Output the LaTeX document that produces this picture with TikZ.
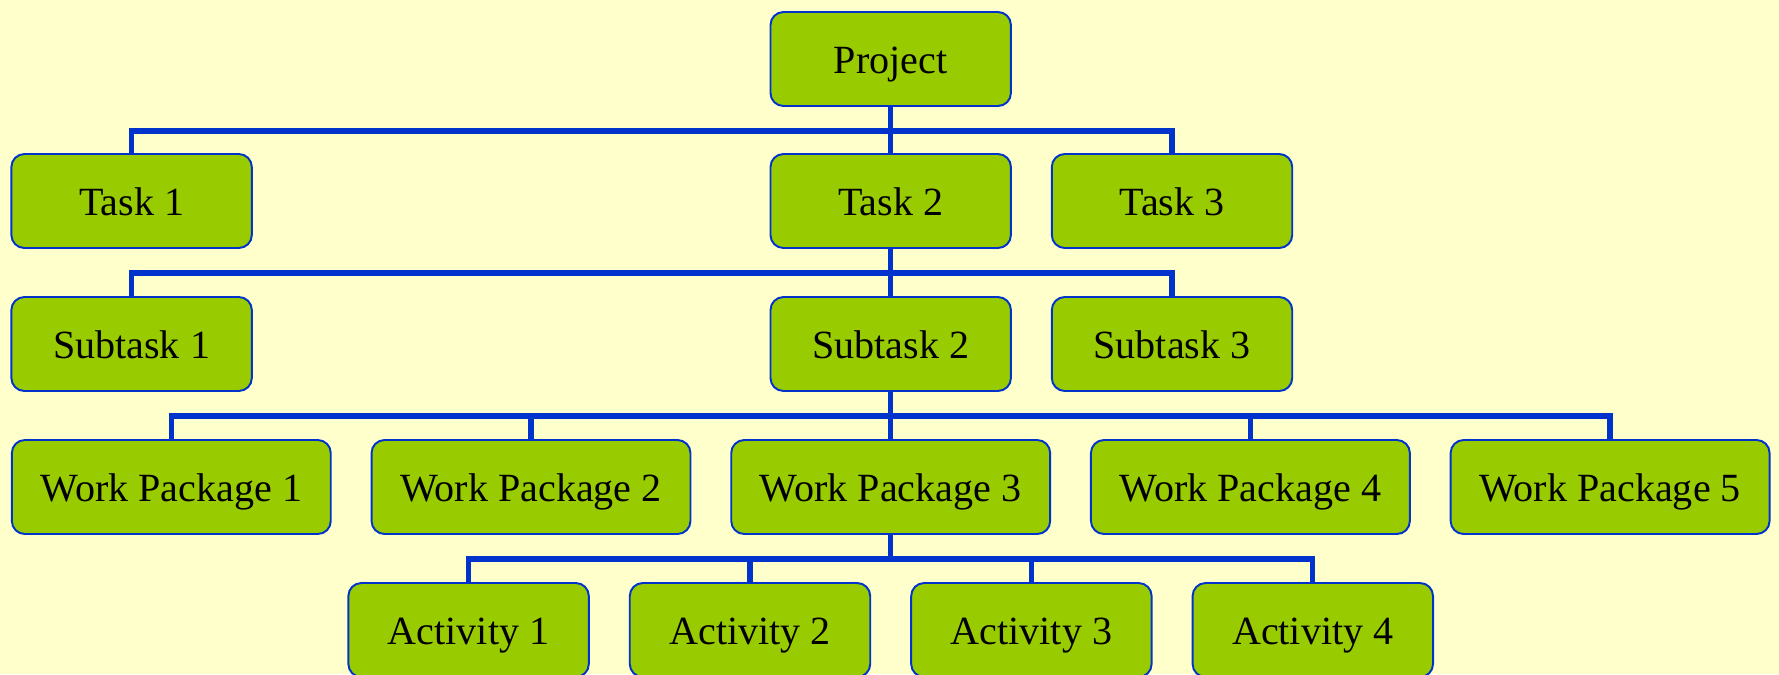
\documentclass[tikz,border=0pt]{standalone}
\usepackage{fontspec}
\setmainfont{Liberation Serif}
\definecolor{bgyellow}{HTML}{FFFFCC}
\definecolor{boxgreen}{HTML}{99CC00}
\definecolor{linkblue}{HTML}{0033CC}

\begin{document}
\begin{tikzpicture}[x=0.02cm, y=-0.02cm,
  wbs/.style={draw=linkblue, line width=1.1pt, fill=boxgreen, rounded corners=0.26cm,
    minimum width=4.81cm, minimum height=1.88cm, inner sep=0pt,
    text height=18pt, text depth=1pt,
    font=\fontsize{22.8}{26}\selectfont},
  widebox/.style={wbs, minimum width=6.38cm},
  link/.style={draw=linkblue, line width=3pt}]
\path[fill=bgyellow, use as bounding box] (0,0) rectangle (1779,674);
\clip (0,0) rectangle (1779,674);
% top
\node[wbs] (proj) at (890.7,59) {Project};
% tasks
\foreach \n/\x/\t in {t1/131.6/Task 1, t2/890.7/Task 2, t3/1172/Task 3}
  \node[wbs] (\n) at (\x,201) {\t};
\foreach \n in {t1,t2,t3} \draw[link] (proj.south) -- ++(0,24) -| (\n.north);
% subtasks
\foreach \n/\x/\t in {s1/131.6/Subtask 1, s2/890.7/Subtask 2, s3/1172/Subtask 3}
  \node[wbs] (\n) at (\x,344) {\t};
\foreach \n in {s1,s2,s3} \draw[link] (t2.south) -- ++(0,24) -| (\n.north);
% work packages
\foreach \i in {1,...,5}
  \node[widebox] (w\i) at ({171.3+359.7*(\i-1)},487) {Work Package \i};
\foreach \i in {1,...,5} \draw[link] (s2.south) -- ++(0,24) -| (w\i.north);
% activities
\foreach \i in {1,...,4}
  \node[wbs] (a\i) at ({468.6+281.4*(\i-1)},630) {Activity \i};
\foreach \i in {1,...,4} \draw[link] (w3.south) -- ++(0,24) -| (a\i.north);
\end{tikzpicture}
\end{document}
